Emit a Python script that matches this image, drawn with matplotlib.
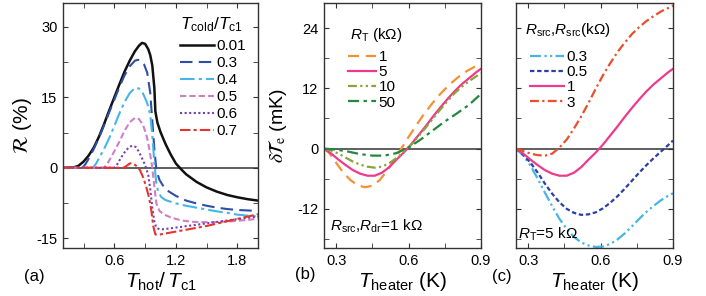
import numpy as np
import matplotlib
matplotlib.use("Agg")
import matplotlib.pyplot as plt
from matplotlib.ticker import MultipleLocator

plt.rcParams['font.family'] = ['Liberation Sans', 'DejaVu Sans']
plt.rcParams['mathtext.fontset'] = 'custom'
plt.rcParams['mathtext.rm'] = 'Liberation Sans'
plt.rcParams['mathtext.it'] = 'Liberation Sans:italic'
plt.rcParams['mathtext.bf'] = 'Liberation Sans:bold'

# ---- panel (a): R(%) vs T_hot/T_c1 for several T_cold/T_c1 ----
a_labels = ['0.01', '0.3', '0.4', '0.5', '0.6', '0.7']
a_x001 = [0.10, 0.20, 0.25, 0.30, 0.35, 0.40, 0.45, 0.50, 0.55, 0.60, 0.65, 0.70, 0.75, 0.80, 0.84,
          0.87, 0.90, 0.93, 0.95, 0.97, 0.99, 1.00, 1.02, 1.05, 1.10, 1.15, 1.20, 1.25, 1.30, 1.40,
          1.50, 1.60, 1.70, 1.80, 1.90, 2.00]
a_y001 = [0, 0.05, 0.4, 1.3, 2.6, 4.3, 6.6, 9.3, 12.2, 15.0, 17.8, 20.5, 22.8, 24.8, 26.0,
          26.6, 26.4, 25.3, 24.0, 21.8, 17.0, 12.0, 9.6, 7.6, 5.0, 2.8, 0.9, -0.3, -1.4, -3.0,
          -4.2, -5.1, -5.8, -6.3, -6.7, -7.0]
a_x03 = [0.10, 0.29, 0.32, 0.36, 0.40, 0.45, 0.50, 0.55, 0.60, 0.65, 0.70, 0.75, 0.80, 0.83, 0.86,
         0.89, 0.92, 0.95, 0.97, 0.99, 1.01, 1.04, 1.08, 1.12, 1.20, 1.30, 1.40, 1.50, 1.60, 1.70,
         1.80, 1.90, 2.00]
a_y03 = [0, 0, 0.8, 2.3, 4.0, 6.4, 9.0, 11.8, 14.5, 17.2, 19.7, 21.6, 22.8, 23.0, 22.8,
         22.0, 20.3, 16.0, 10.0, 4.0, -0.5, -2.6, -4.0, -4.9, -6.0, -7.0, -7.6, -8.1, -8.5, -8.8,
         -9.0, -9.1, -9.2]
a_x04 = [0.10, 0.39, 0.42, 0.46, 0.50, 0.55, 0.60, 0.65, 0.70, 0.75, 0.80, 0.84, 0.88, 0.92, 0.95,
         0.97, 0.99, 1.01, 1.03, 1.06, 1.10, 1.20, 1.30, 1.40, 1.50, 1.60, 1.70, 1.80, 1.90, 2.00]
a_y04 = [0, 0, 0.8, 2.4, 4.0, 6.3, 8.9, 11.6, 14.0, 15.9, 17.0, 16.9, 15.8, 13.8, 11.3,
         7.0, 1.0, -3.5, -5.3, -6.3, -6.9, -7.6, -8.1, -8.5, -8.9, -9.3, -9.6, -10.0, -10.2, -10.4]
a_x05 = [0.10, 0.50, 0.53, 0.57, 0.61, 0.65, 0.70, 0.75, 0.80, 0.84, 0.88, 0.91, 0.93, 0.95, 0.97,
         0.99, 1.01, 1.04, 1.08, 1.15, 1.25, 1.35, 1.45, 1.55, 1.65, 1.75, 1.85, 2.00]
a_y05 = [0, 0, 0.8, 2.3, 3.9, 5.6, 7.9, 9.7, 10.6, 10.4, 9.1, 7.2, 5.3, 2.8, 0,
         -4.0, -7.6, -9.2, -9.9, -10.6, -11.2, -11.5, -11.6, -11.6, -11.5, -11.4, -11.2, -10.9]
a_x06 = [0.10, 0.60, 0.63, 0.67, 0.71, 0.75, 0.78, 0.81, 0.84, 0.87, 0.90, 0.93, 0.95, 0.97, 0.99,
         1.01, 1.04, 1.08, 1.15, 1.25, 1.35, 1.45, 1.55, 1.65, 1.75, 1.85, 2.00]
a_y06 = [0, 0, 0.8, 2.3, 3.6, 4.5, 4.7, 4.4, 3.4, 2.0, 0.6, -1.5, -4.5, -8.5, -11.5,
         -12.8, -13.1, -13.1, -12.9, -12.6, -12.3, -12.0, -11.7, -11.4, -11.1, -10.8, -10.4]
a_x07 = [0.10, 0.69, 0.72, 0.75, 0.77, 0.79, 0.82, 0.85, 0.88, 0.91, 0.94, 0.96, 0.98, 1.00, 1.02,
         1.05, 1.10, 1.20, 1.30, 1.40, 1.50, 1.60, 1.70, 1.80, 1.90, 2.00]
a_y07 = [0, 0, 0.4, 0.9, 1.0, 0.8, 0.3, -0.5, -2.0, -4.0, -6.5, -9.0, -12.5, -14.2, -14.3,
         -14.2, -14.0, -13.6, -13.2, -12.8, -12.4, -11.9, -11.4, -10.9, -10.4, -9.9]

# ---- panel (b): dT_e vs T_heater for several R_T ----
b_labels = ['1', '5', '10', '50']
b_x1 = [0.25, 0.27, 0.30, 0.33, 0.36, 0.39, 0.42, 0.45, 0.48, 0.51, 0.54, 0.57, 0.60, 0.63, 0.66,
        0.69, 0.72, 0.75, 0.78, 0.81, 0.84, 0.87, 0.90]
b_y1 = [0, -0.8, -2.8, -4.8, -6.3, -7.3, -7.7, -7.4, -6.3, -4.5, -2.3, 0, 2.3, 4.5, 6.6,
        8.5, 10.3, 11.8, 13.2, 14.4, 15.4, 16.2, 16.9]
b_x5 = [0.25, 0.28, 0.31, 0.34, 0.37, 0.40, 0.43, 0.46, 0.49, 0.52, 0.55, 0.58, 0.61, 0.64, 0.67,
        0.70, 0.73, 0.76, 0.79, 0.82, 0.85, 0.88, 0.90]
b_y5 = [0, -1.0, -2.2, -3.3, -4.3, -5.0, -5.4, -5.4, -4.8, -3.7, -2.2, -0.8, 0.8, 2.6, 4.4,
        6.3, 8.1, 9.8, 11.4, 12.8, 14.0, 15.2, 15.9]
b_x10 = b_x5
b_y10 = [0, -0.4, -1.0, -1.8, -2.6, -3.2, -3.6, -3.8, -3.6, -2.9, -1.9, -0.7, 0.7, 2.4, 4.1,
         5.9, 7.7, 9.4, 11.0, 12.3, 13.4, 14.4, 15.0]
b_x50 = [0.25, 0.30, 0.35, 0.40, 0.45, 0.50, 0.55, 0.60, 0.65, 0.70, 0.75, 0.80, 0.85, 0.90]
b_y50 = [0, -0.2, -0.6, -1.1, -1.4, -1.4, -0.9, 0.2, 1.8, 3.6, 5.4, 7.0, 8.7, 10.9]

# ---- panel (c): dT_e vs T_heater for several R_src ----
c_labels = ['0.3', '0.5', '1', '3']
c_x = [0.25, 0.28, 0.31, 0.34, 0.37, 0.40, 0.43, 0.46, 0.49, 0.52, 0.55, 0.58, 0.61, 0.64, 0.67,
       0.70, 0.73, 0.76, 0.79, 0.82, 0.85, 0.88, 0.90]
c_y03 = [0, -1.4, -3.4, -6.0, -8.8, -11.5, -14.0, -16.0, -17.6, -18.7, -19.3, -19.6, -19.5, -19.0, -18.1,
         -16.9, -15.5, -14.0, -12.6, -11.4, -10.3, -9.4, -8.9]
c_y05 = [0, -1.2, -2.8, -4.8, -7.0, -9.0, -10.7, -12.0, -12.8, -13.2, -13.1, -12.7, -11.9, -10.8, -9.5,
         -8.0, -6.4, -4.8, -3.3, -1.9, -0.6, 0.7, 1.6]
c_y1 = b_y5
c_y3 = [0, -0.5, -1.0, -1.3, -1.4, -1.0, 0.2, 1.8, 4.0, 6.4, 9.1, 11.9, 14.6, 17.0, 19.2,
        21.1, 22.8, 24.2, 25.4, 26.4, 27.3, 28.0, 28.5]

fig = plt.figure(figsize=(7.06, 2.96), dpi=100)
W, H = 706, 296
def box(l, r, t, b):
    return [l / W, 1 - b / H, (r - l) / W, (b - t) / H]
ax_a = fig.add_axes(box(63, 258, 3, 248))
ax_b = fig.add_axes(box(324, 481, 3, 248))
ax_c = fig.add_axes(box(516, 673, 3, 248))

ls_a = [('-', '#111111', 1.8),
        ((0, (6, 3)), '#2d4fa6', 1.5),
        ((0, (7, 2, 1.5, 2)), '#46b6e6', 1.5),
        ((0, (3, 1.5)), '#cf7fc7', 1.5),
        ((0, (1, 1.2)), '#7440b0', 1.5),
        ((0, (5, 1.5, 1.5, 1.5)), '#e8332d', 1.5)]
a_data = [(a_x001, a_y001), (a_x03, a_y03), (a_x04, a_y04),
          (a_x05, a_y05), (a_x06, a_y06), (a_x07, a_y07)]

for ax in (ax_a, ax_b, ax_c):
    ax.axhline(0, color='#444444', lw=1.2, zorder=1)
    ax.tick_params(which='both', direction='in', top=True, right=True, length=3.5,
                   labelsize=10.5, color='#333333', pad=4)
    for s in ax.spines.values():
        s.set_color('#333333')
        s.set_linewidth(1.0)

for (xs, ys), (ls, col, lw), lab in zip(a_data, ls_a, a_labels):
    ax_a.plot(xs, ys, ls=ls, color=col, lw=lw, label=lab)
ax_a.set_xlim(0.1, 2.0)
ax_a.set_ylim(-17.1, 35.1)
ax_a.set_xticks([0.6, 1.2, 1.8])
ax_a.set_xticklabels(['0.6', '1.2', '1.8'])
ax_a.xaxis.set_minor_locator(MultipleLocator(0.3))
ax_a.set_yticks([-15, 0, 15, 30])
ax_a.set_yticklabels(['-15', '0', '15', '30'])
ax_a.yaxis.set_minor_locator(MultipleLocator(7.5))
ax_a.set_ylabel(r'$\mathcal{R}$ (%)', fontsize=15, math_fontfamily='stix', labelpad=2)
ax_a.set_xlabel(r'$T_{\rm hot}/\,T_{\rm c1}$', fontsize=15, labelpad=2)
ax_a.text(0.6, 0.91, r'$T_{\rm cold}/T_{\rm c1}$', transform=ax_a.transAxes,
          fontsize=12.5, ha='left', va='center')
ax_a.legend(loc='upper left', bbox_to_anchor=(0.6, 0.853), frameon=False, fontsize=11,
            handlelength=2.2, handletextpad=0.2, labelspacing=0.2, borderpad=0, borderaxespad=0)

ls_b = [((0, (5, 3)), '#f39233', 1.6),
        ('-', '#ee3a8c', 1.6),
        ((0, (4, 1.5, 1, 1.5, 1, 1.5)), '#8aa43a', 1.6),
        ((0, (5, 2, 1.5, 2)), '#23883e', 1.6)]
b_data = [(b_x1, b_y1), (b_x5, b_y5), (b_x10, b_y10), (b_x50, b_y50)]
for (xs, ys), (ls, col, lw), lab in zip(b_data, ls_b, b_labels):
    ax_b.plot(xs, ys, ls=ls, color=col, lw=lw, label=lab)
ax_b.text(0.166, 0.869, r'$R_{\rm T}$ (k$\Omega$)', transform=ax_b.transAxes,
          fontsize=11, ha='left', va='center')
ax_b.legend(loc='upper left', bbox_to_anchor=(0.153, 0.808), frameon=False, fontsize=11,
            handlelength=1.8, handletextpad=0.2, labelspacing=0.08, borderpad=0, borderaxespad=0)
ax_b.text(0.04, 0.07, r'$R_{\rm src}$,$R_{\rm dr}$=1 k$\Omega$', transform=ax_b.transAxes, fontsize=11)
ax_b.set_ylabel(r'$\delta\mathcal{T}_{\rm e}$ (mK)', fontsize=14, math_fontfamily='stix', labelpad=6)

ls_c = [((0, (5, 1.5, 1, 1.5, 1, 1.5)), '#46b6e6', 1.6),
        ((0, (2, 1.2)), '#2b3fa6', 1.6),
        ('-', '#ee3a8c', 1.6),
        ((0, (4, 1.5, 1, 1.5)), '#e8502d', 1.6)]
c_data = [c_y03, c_y05, c_y1, c_y3]
for ys, (ls, col, lw), lab in zip(c_data, ls_c, c_labels):
    ax_c.plot(c_x, ys, ls=ls, color=col, lw=lw, label=lab)
ax_c.text(0.057, 0.89, r'$R_{\rm src}$,$R_{\rm src}$(k$\Omega$)', transform=ax_c.transAxes,
          fontsize=11, ha='left', va='center')
ax_c.legend(loc='upper left', bbox_to_anchor=(0.09, 0.808), frameon=False, fontsize=11,
            handlelength=2.2, handletextpad=0.2, labelspacing=0.08, borderpad=0, borderaxespad=0)
ax_c.text(0.01, 0.04, r'$R_{\rm T}$=5 k$\Omega$', transform=ax_c.transAxes, fontsize=11)

for ax in (ax_b, ax_c):
    ax.set_xlim(0.25, 0.9)
    ax.set_ylim(-19.8, 29.0)
    ax.set_xticks([0.3, 0.6, 0.9])
    ax.set_xticklabels(['0.3', '0.6', '0.9'])
    ax.xaxis.set_minor_locator(MultipleLocator(0.15))
    ax.set_yticks([-12, 0, 12, 24])
    ax.yaxis.set_minor_locator(MultipleLocator(6))
    ax.set_xlabel(r'$T_{\rm heater}$ (K)', fontsize=15, labelpad=2)
ax_b.set_yticklabels(['-12', '0', '12', '24'])
ax_c.set_yticklabels([])

for ax in (ax_a, ax_b, ax_c):
    ax.tick_params(which='minor', length=3.5)

fig.text(34 / W, 1 - 276 / H, '(a)', fontsize=12, ha='center', va='center')
fig.text(305 / W, 1 - 275 / H, '(b)', fontsize=12, ha='center', va='center')
fig.text(502 / W, 1 - 277 / H, '(c)', fontsize=12, ha='center', va='center')

fig.savefig('out.png', dpi=100)
